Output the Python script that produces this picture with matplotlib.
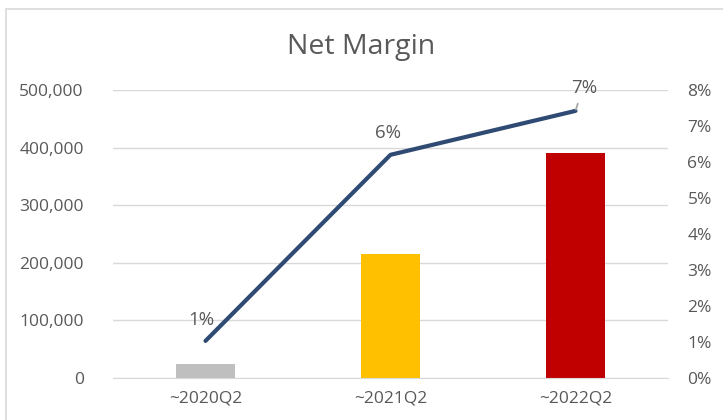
import matplotlib
matplotlib.use("Agg")
import matplotlib.pyplot as plt
from matplotlib.patches import Rectangle
from matplotlib.ticker import FuncFormatter

categories = ["~2020Q2", "~2021Q2", "~2022Q2"]
net_income = [24500, 216000, 390000]
net_margin = [1.03, 6.2, 7.42]
margin_labels = ["1%", "6%", "7%"]
bar_colors = ["#BFBFBF", "#FFC000", "#C00000"]

plt.rcParams['font.family'] = ['Open Sans', 'DejaVu Sans']
tc = "#595959"

fig = plt.figure(figsize=(7.23, 4.20), dpi=100)
fig.patches.append(Rectangle((6/723, -0.01), 1.0, 1 - 9/420 + 0.01, transform=fig.transFigure,
                             fill=False, edgecolor="#D9D9D9", linewidth=1.2))
ax = fig.add_axes([113/723, 42/420, (668-113)/723, (378-90)/420])
x = list(range(len(categories)))
ax.bar(x, net_income, width=0.315, color=bar_colors, zorder=2)
ax.set_xlim(-0.5, 2.5)
ax.set_ylim(0, 500000)
ax.set_yticks(range(0, 500001, 100000))
ax.yaxis.set_major_formatter(FuncFormatter(lambda v, p: f"{int(v):,}"))
ax.set_xticks(x)
ax.set_xticklabels(categories)
ax.grid(axis="y", color="#D9D9D9", linewidth=1, zorder=0)
ax.set_axisbelow(True)
for s in ["top", "right", "left"]:
    ax.spines[s].set_visible(False)
ax.spines["bottom"].set_color("#D9D9D9")
ax.tick_params(axis="both", length=0, colors=tc, labelsize=12.5)
ax.tick_params(axis="x", pad=9)
ax.tick_params(axis="y", pad=21)

ax2 = ax.twinx()
ax2.plot(x, net_margin, color="#2F4B74", linewidth=3, solid_capstyle="round", zorder=3)
ax2.set_ylim(0, 8)
ax2.set_yticks(range(0, 9))
ax2.yaxis.set_major_formatter(FuncFormatter(lambda v, p: f"{int(v)}%"))
for s in ax2.spines.values():
    s.set_visible(False)
ax2.tick_params(axis="y", length=0, colors=tc, labelsize=12.5, pad=14)

lbl_fs = 13.5
ax2.annotate(margin_labels[0], (x[0], net_margin[0]), xytext=(-3, 15), textcoords="offset points",
             ha="center", va="center", color=tc, fontsize=lbl_fs)
ax2.annotate(margin_labels[1], (x[1], net_margin[1]), xytext=(-2, 16), textcoords="offset points",
             ha="center", va="center", color=tc, fontsize=lbl_fs)
ax2.annotate(margin_labels[2], (x[2], net_margin[2]), xytext=(6, 16.5), textcoords="offset points",
             ha="center", va="center", color=tc, fontsize=lbl_fs,
             arrowprops=dict(arrowstyle="-", color="#A6A6A6", lw=1.3, shrinkA=3, shrinkB=1,
                             relpos=(0.35, 0.0)))

fig.text(0.5, 1 - 47/420, "Net Margin", ha="center", va="center", fontsize=20.5, color=tc)

fig.savefig("out.png", dpi=100)
